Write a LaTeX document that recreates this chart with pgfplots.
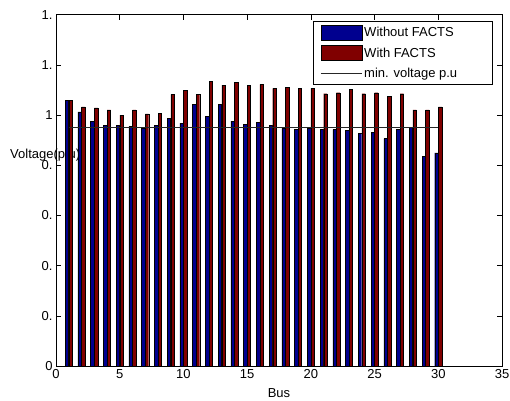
\documentclass[border=0pt]{standalone}
\usepackage{fontspec}
\setmainfont{Liberation Sans}
\usepackage{pgfplots}
\usepackage{pgfplotstable}
\pgfplotsset{compat=1.18}
\definecolor{mblue}{rgb}{0,0,0.5625}
\definecolor{mred}{rgb}{0.5,0,0}
\pgfplotsset{
  barlegend/.style={legend image code/.code={\draw[##1] (0bp,-7.5bp) rectangle (41bp,7.5bp);}},
  linelegend/.style={legend image code/.code={\draw[##1] (0bp,0bp) -- (41bp,0bp);}},
}
\newcommand{\legtxt}[1]{\makebox[119bp][l]{#1}}
\pgfplotstableread{
bus v
1 1.058
2 1.013
3 0.976
4 0.960
5 0.960
6 0.955
7 0.947
8 0.960
9 0.987
10 0.968
11 1.042
12 0.996
13 1.042
14 0.976
15 0.963
16 0.972
17 0.960
18 0.947
19 0.942
20 0.947
21 0.942
22 0.942
23 0.938
24 0.927
25 0.931
26 0.906
27 0.942
28 0.950
29 0.836
30 0.849
}\without
\pgfplotstableread{
bus v
1 1.058
2 1.033
3 1.029
4 1.021
5 1.000
6 1.021
7 1.005
8 1.008
9 1.082
10 1.098
11 1.082
12 1.135
13 1.119
14 1.131
15 1.118
16 1.122
17 1.106
18 1.111
19 1.106
20 1.106
21 1.085
22 1.089
23 1.102
24 1.085
25 1.089
26 1.074
27 1.085
28 1.021
29 1.021
30 1.033
}\withf
\begin{document}
\begin{tikzpicture}[font=\fontsize{13bp}{15bp}\selectfont]
\path[use as bounding box] (-56bp,-35bp) rectangle (454bp,366bp);
\node[anchor=west, inner sep=0pt] at (-46bp,211bp) {Voltage(p.u)};
\begin{axis}[
  at={(0bp,0bp)}, anchor=south west,
  scale only axis, width=446bp, height=351.3bp,
  xmin=0, xmax=35, ymin=0, ymax=1.4,
  xtick={0,5,10,15,20,25,30,35},
  ytick={0,0.2,0.4,0.6,0.8,1,1.2,1.4},
  yticklabels={0,0.,0.,0.,0.,1,1.,1.},
  /pgf/number format/assume math mode=true,
  tick align=inside, major tick length=5bp,
  axis line style={line width=0.8bp, black},
  tick style={line width=0.6bp, black},
  xlabel={Bus},
  xlabel style={yshift=-3bp},
  legend style={at={(rel axis cs:0.980,0.981)}, anchor=north east,
    draw=black, fill=white, line width=0.7bp, inner xsep=7.5bp, inner ysep=3bp,
    row sep=5bp, cells={anchor=west, text height=10bp, text depth=3bp, inner ysep=1bp},
    /tikz/every even column/.append style={column sep=2bp}},
]
\addplot[ybar, bar width=0.27, bar shift=-0.143, fill=mblue, draw=black, line width=0.4bp, barlegend]
  table[x=bus, y=v] {\without};
\addlegendentry{\legtxt{Without FACTS}}
\addplot[ybar, bar width=0.27, bar shift=0.143, fill=mred, draw=black, line width=0.4bp, barlegend]
  table[x=bus, y=v] {\withf};
\addlegendentry{\legtxt{With FACTS}}
\addplot[black!85, line width=0.7bp, linelegend]
  coordinates {(1,0.95) (30,0.95)};
\addlegendentry{\legtxt{min. voltage p.u}}
\end{axis}
\end{tikzpicture}
\end{document}
